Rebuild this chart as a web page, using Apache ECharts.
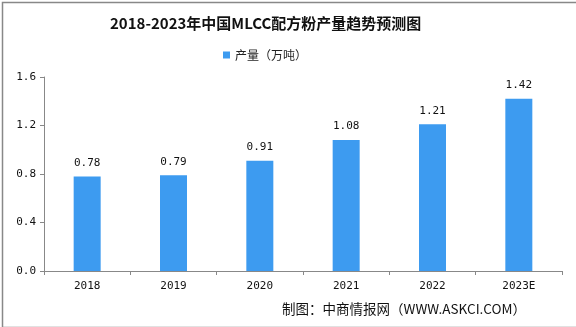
<!DOCTYPE html>
<html>
<head>
<meta charset="utf-8">
<script src="https://cdn.jsdelivr.net/npm/echarts@6/dist/echarts.min.js"></script>
<style>
  html, body { margin: 0; padding: 0; background: #fff; }
  #chart { width: 576px; height: 327px; }
</style>
</head>
<body>
<div id="chart"></div>
<script>
const years = ['2018', '2019', '2020', '2021', '2022', '2023E']
const output = [0.78, 0.79, 0.91, 1.08, 1.21, 1.42]
const yTicks = { min: 0, max: 1.6, interval: 0.4 }

const chart = echarts.init(document.getElementById('chart'))
chart.setOption({
  animation: false,
  title: {
    text: '2018-2023年中国MLCC配方粉产量趋势预测图',
    left: 105,
    top: 11,
    textStyle: {
      fontFamily: '"Noto Sans CJK SC"',
      fontSize: 15,
      fontWeight: 'bold',
      color: '#111'
    }
  },
  legend: {
    top: 44,
    left: 218,
    itemWidth: 7,
    itemHeight: 7,
    itemGap: 4,
    icon: 'rect',
    textStyle: { fontFamily: '"Noto Sans CJK SC"', fontSize: 12, color: '#222' },
    data: ['产量（万吨）']
  },
  grid: { left: 44, right: 14, top: 77, bottom: 56 },
  xAxis: {
    type: 'category',
    data: years,
    axisLine: { lineStyle: { color: '#888' } },
    axisTick: { show: true, length: 4, lineStyle: { color: '#888' } },
    axisLabel: { color: '#111', fontFamily: 'DejaVu Sans Mono', fontSize: 11, margin: 10 }
  },
  yAxis: {
    type: 'value',
    min: yTicks.min,
    max: yTicks.max,
    interval: yTicks.interval,
    axisLine: { show: true, lineStyle: { color: '#888' } },
    axisTick: { show: true, length: 4, lineStyle: { color: '#888' } },
    splitLine: { show: false },
    axisLabel: {
      color: '#111',
      fontFamily: 'DejaVu Sans Mono',
      fontSize: 11,
      margin: 8,
      formatter: v => v.toFixed(1)
    }
  },
  series: [{
    name: '产量（万吨）',
    type: 'bar',
    barWidth: 27,
    data: output,
    itemStyle: { color: '#3d9bf0' },
    label: {
      show: true,
      position: 'top',
      distance: 8,
      color: '#111',
      fontFamily: 'DejaVu Sans Mono',
      fontSize: 11,
      formatter: p => p.value.toFixed(2)
    }
  }],
  graphic: [
    {
      type: 'text',
      right: 50,
      bottom: 11,
      style: {
        text: '制图：中商情报网（WWW.ASKCI.COM）',
        fontFamily: '"Noto Sans CJK SC"',
        fontSize: 13.5,
        fill: '#111'
      }
    },
    {
      type: 'rect',
      left: 0,
      top: 0,
      shape: { x: 0.5, y: 0.5, width: 575, height: 325 },
      style: { fill: 'none', stroke: '#888', lineWidth: 1.5 },
      silent: true
    }
  ]
})
</script>
</body>
</html>
